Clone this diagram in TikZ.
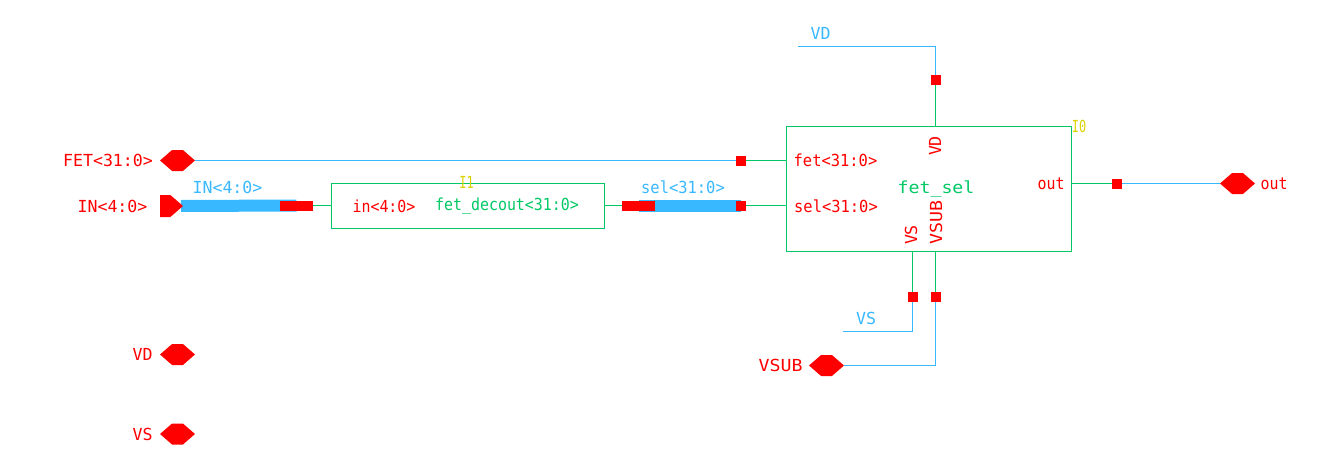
\documentclass[tikz,border=0pt]{standalone}
\usepackage{fontspec}
\setmonofont{DejaVu Sans Mono}
\usetikzlibrary{shapes.symbols,backgrounds}
\definecolor{wirecol}{RGB}{56,184,255}
\definecolor{symcol}{RGB}{0,200,100}
\definecolor{pincol}{RGB}{255,0,0}
\definecolor{instcol}{RGB}{220,210,0}

\begin{document}
\begin{tikzpicture}
  [x=1pt,y=-1pt,every node/.style={inner sep=0pt,outer sep=0pt,font=\ttfamily\fontsize{16.6}{18}\selectfont},
   pinhex/.style={signal,signal to=east and west,signal pointer angle=82,fill=pincol,minimum width=35pt,minimum height=21pt},
   pinin/.style={signal,signal to=east,signal from=nowhere,signal pointer angle=82,fill=pincol,minimum width=23pt,minimum height=22pt},
   portsq/.style={fill=pincol,minimum width=10pt,minimum height=10pt},
   stub/.style={fill=pincol,minimum width=33pt,minimum height=10pt},
   block/.style={draw=symcol,line width=1pt},
   redtxt/.style={text=pincol},
   bluetxt/.style={text=wirecol},
   greentxt/.style={text=symcol},
   yeltxt/.style={text=instcol,transform shape,xscale=.72},
   lowtxt/.style={transform shape,xscale=.93},
   tinytxt/.style={transform shape,xscale=.9},
   widetxt/.style={transform shape,xscale=1.1},
   wire/.style={draw=wirecol,line width=1pt},
   bus/.style={draw=wirecol,line width=12pt},
   symwire/.style={draw=symcol,line width=1pt}]
  \useasboundingbox (0,0) rectangle (1322,468);

  % blocks
  \node[block,minimum width=285pt,minimum height=125pt] (fetsel) at (929,189) {};
  \node[block,minimum width=273pt,minimum height=45pt] (decoder) at (468,206) {};

  % pins
  \node[pinhex] (fetpin) at (177.5,160.5) {};
  \node[pinin,anchor=west] (inpin) at (160,206) {};
  \node[pinhex] (vdpin) at (177.5,354.5) {};
  \node[pinhex] (vspin) at (177.5,434) {};
  \node[pinhex] (vsubpin) at (826.5,365.5) {};
  \node[pinhex] (outpin) at (1237.5,183.5) {};

  % connection squares
  \foreach \name/\x/\y in {fetsq/741/160.5,selsq/741/205.5,vdsq/935.5/80,vssq/912.5/296.5,vsubsq/935.5/296.5,outsq/1117/183.5}
    \node[portsq] (\name) at (\x,\y) {};
  \node[stub] (instub) at (296.5,205.5) {};
  \node[stub] (selstub) at (638.5,205.5) {};

  % free wire ends
  \coordinate (vdend) at (798,46.5);
  \coordinate (vsend) at (843,331.5);

  \begin{scope}[on background layer]
    \draw[bus] ([xshift=-2pt]inpin.east) -- (instub.center);
    \draw[bus] (selstub.center) -- (selsq.center);
  \end{scope}

  % wires
  \draw[wire] (fetpin) -- (fetsq);
  \draw[wire] (vdend) -| (vdsq);
  \draw[wire] (vsend) -| (vssq);
  \draw[wire] (vsubpin) -| (vsubsq);
  \draw[wire] (outsq) -- (outpin);
  \draw[symwire] (fetsq) -- (fetsq -| fetsel.west);
  \draw[symwire] (selsq) -- (selsq -| fetsel.west);
  \draw[symwire] (vdsq) -- (vdsq |- fetsel.north);
  \draw[symwire] (vssq) -- (vssq |- fetsel.south);
  \draw[symwire] (vsubsq) -- (vsubsq |- fetsel.south);
  \draw[symwire] (outsq) -- (outsq -| fetsel.east);
  \draw[symwire] (instub) -- (instub -| decoder.west);
  \draw[symwire] (selstub) -- (selstub -| decoder.east);

  % pin labels
  \node[redtxt] (fetlab) at (108,160) {FET<31:0>};
  \node[redtxt] (inlab) at (112.5,206) {IN<4:0>};
  \node[redtxt] (vdlab) at (142.5,354.5) {VD};
  \node[redtxt] (vslab) at (142.5,434) {VS};
  \node[redtxt,widetxt] (vsublab) at (780.5,365.5) {VSUB};
  \node[redtxt,tinytxt] (outlab) at (1274,184) {out};

  % net labels
  \node[bluetxt] (innet) at (227.5,187) {IN<4:0>};
  \node[bluetxt,lowtxt] (selnet) at (683,187) {sel<31:0>};
  \node[bluetxt] (vdnet) at (820.5,33) {VD};
  \node[bluetxt] (vsnet) at (866,318) {VS};

  % block labels
  \node[redtxt,lowtxt] (fetport) at (835.5,160) {fet<31:0>};
  \node[redtxt,lowtxt] (selport) at (836,206) {sel<31:0>};
  \node[redtxt,tinytxt] (outport) at (1051,184) {out};
  \node[redtxt,rotate=90] (vdport) at (935,146) {VD};
  \node[redtxt,rotate=90] (vsport) at (911,235) {VS};
  \node[redtxt,rotate=90,widetxt] (vsubport) at (936,222.5) {VSUB};
  \node[redtxt,tinytxt] (inport) at (384,206) {in<4:0>};
  \node[greentxt,widetxt] (fetsellab) at (936,189) {fet\_sel};
  \node[greentxt,tinytxt] (declab) at (507,206) {fet\_decout<31:0>};
  \node[yeltxt] (inst1) at (466.5,182) {I1};
  \node[yeltxt] (inst0) at (1079,126) {I0};
\end{tikzpicture}
\end{document}
